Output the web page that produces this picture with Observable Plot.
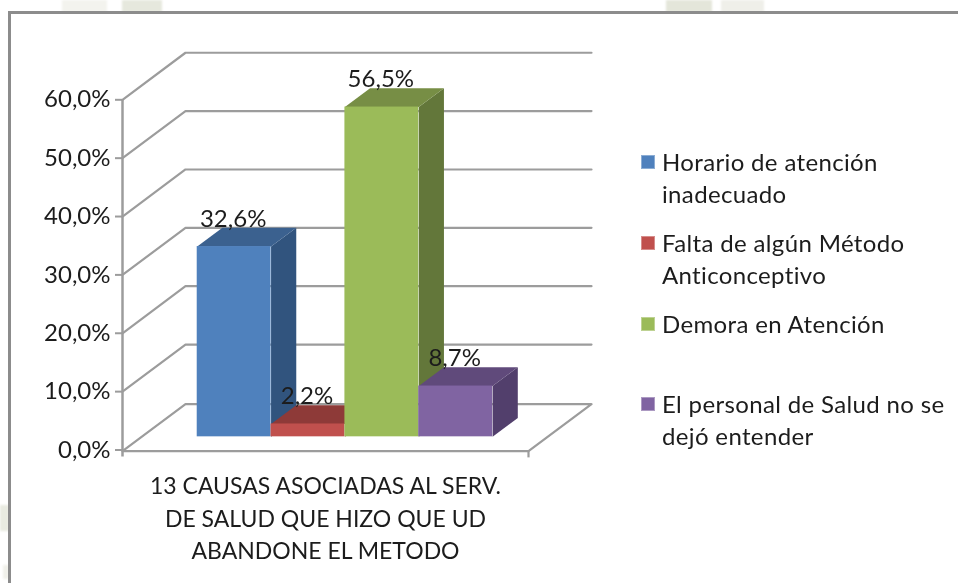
<!DOCTYPE html>
<html><head><meta charset="utf-8">
<script src="https://cdn.jsdelivr.net/npm/d3@7"></script>
<script src="https://cdn.jsdelivr.net/npm/@observablehq/plot@0.6"></script>
<style>
html,body{margin:0;padding:0;background:#fff;width:958px;height:583px;overflow:hidden;font-family:Lato,sans-serif;color:#1c1c1c}
.wm{position:absolute;filter:blur(1px)}
#frame{position:absolute;left:8px;top:11px;right:0;bottom:0;border-left:3px solid #8c8c8c;border-top:3px solid #8c8c8c;background:#fff}
#wrap{position:absolute;left:0;top:0;filter:blur(.3px)}
#legend{position:absolute;left:641px;top:-1px;width:317px;height:583px;filter:blur(.3px)}
.li{position:absolute;left:0;display:flex;align-items:flex-start}
.sw{width:14px;height:14px;margin-right:7px;margin-top:9px;flex:none;box-sizing:border-box;border:1px solid rgba(255,255,255,.35)}
.tx{font-size:24px;line-height:32px;white-space:pre;letter-spacing:.35px}
</style></head><body>
<div class="wm" style="left:62px;top:0;width:45px;height:12px;background:#f3f3ee"></div>
<div class="wm" style="left:122px;top:0;width:40px;height:12px;background:#e6e8dd"></div>
<div class="wm" style="left:666px;top:0;width:46px;height:12px;background:#e4e6da"></div>
<div class="wm" style="left:721px;top:0;width:43px;height:12px;background:#efefe9"></div>
<div class="wm" style="left:0;top:505px;width:9px;height:26px;background:#e9ebe1"></div>
<div class="wm" style="left:3px;top:565px;width:6px;height:14px;background:#f0f0ea"></div>
<div id="frame"></div><div id="wrap"></div><div id="legend"></div>
<script>
const categories = ["Horario de atención\ninadecuado","Falta de algún Método\nAnticonceptivo","Demora en Atención","El personal de Salud no se\ndejó entender"];
const values = [32.6, 2.2, 56.5, 8.7];
const valueLabels = ["32,6%","2,2%","56,5%","8,7%"];
const front = ["#4f81bd","#c0504d","#9bbb59","#8064a2"];
const topFace = ["#3b618f","#8e3a38","#778e45","#604a7b"];
const side = ["#31547e","#7c3230","#63773a","#523f6c"];
const ticks = [0,10,20,30,40,50,60];
const axisTitle = ["13 CAUSAS ASOCIADAS AL SERV.","DE SALUD QUE HIZO QUE UD","ABANDONE EL METODO"];
const legendTops = [147,228,309,389];

// oblique projection: one depth unit shifts a point along the wall diagonal
const X0 = -0.773, X1 = 4.725;
const DX = 0.853, DY = 8.06;        // data units per depth unit
const BAR_D0 = 0.28, BAR_D1 = 0.68; // depth span of the bars
const FLOOR = -0.2;
const P = (x, v, d) => ({x: x + d*DX, y: v + d*DY});

const grid = ticks.slice(1).map(v => [P(X0,v,0),P(X0,v,1),P(X1,v,1)]);
const floor = [P(X0,FLOOR,0),P(X1,FLOOR,0),P(X1,FLOOR,1),P(X0,FLOOR,1),P(X0,FLOOR,0)];
const GRID = {x:"x",y:"y",stroke:"#9c9c9c",strokeWidth:2.2,curve:"linear"};

const bars = values.map((v,i) => ({i,v,f:P(i,0,BAR_D0),e:P(i+1,v,BAR_D0)}));
const poly = (pts,fill) => Plot.line(pts,{x:"x",y:"y",fill,stroke:"none",curve:"linear"});
const sideFaces = bars.map(({i,v}) => poly([P(i+1,0,BAR_D0),P(i+1,v,BAR_D0),P(i+1,v,BAR_D1),P(i+1,0,BAR_D1)],side[i]));
const topFaces = bars.map(({i,v}) => poly([P(i,v,BAR_D0),P(i+1,v,BAR_D0),P(i+1,v,BAR_D1),P(i,v,BAR_D1)],topFace[i]));
const labelRows = values.map((v,i) => ({x:P(i+.5,v,BAR_D0).x,y:P(i,v,BAR_D1).y,t:valueLabels[i]}));

// draw bars left to right so later faces overlap earlier side faces
const barMarks = bars.flatMap((b,i) => [
  sideFaces[i], topFaces[i],
  Plot.rect([b],{x1:d=>d.f.x,x2:d=>d.e.x,y1:d=>d.f.y,y2:d=>d.e.y,fill:front[i],inset:0})
]);

const chart = Plot.plot({
  width:620,height:583,
  marginLeft:122,marginRight:0,marginTop:99.3,marginBottom:133.7,
  x:{domain:[X0,X1],range:[122,528],axis:null},
  y:{domain:[0,60],range:[449.5,99.3],axis:null},
  style:{background:"transparent",overflow:"visible"},
  marks:[
    ...grid.map(g=>Plot.line(g,GRID)),
    Plot.line(floor,GRID),
    Plot.ruleX([X1],{y1:FLOOR,y2:-1.35,stroke:"#9c9c9c",strokeWidth:2.2}),
    Plot.ruleX([X0],{y1:-1.2,y2:60,stroke:"#9c9c9c",strokeWidth:2.5}),
    Plot.axisY(ticks,{anchor:"left",tickSize:7,tickPadding:5,stroke:"#9c9c9c",strokeWidth:2,
      tickFormat:d=>d.toFixed(1).replace(".",",")+"%",fontSize:24,fontFamily:"Lato",fill:"#1c1c1c",label:null}),
    ...barMarks,
    Plot.text(labelRows,{x:"x",y:"y",text:"t",textAnchor:"middle",lineAnchor:"bottom",dy:-1,dx:-1,fontSize:24,fontFamily:"Lato",fill:"#1c1c1c"}),
    Plot.text([axisTitle.join("\n")],{x:()=>(X0+X1)/2,y:()=>0,text:d=>d,dy:21,lineAnchor:"top",lineHeight:1.413,
      textAnchor:"middle",fontSize:23,fontFamily:"Lato",fill:"#1c1c1c"})
  ]
});
document.getElementById("wrap").append(chart);

const lg = document.getElementById("legend");
categories.forEach((c,i)=>{
  const li=document.createElement("div");li.className="li";li.style.top=legendTops[i]+"px";
  const sw=document.createElement("div");sw.className="sw";sw.style.background=front[i];
  const tx=document.createElement("div");tx.className="tx";tx.textContent=c;
  li.append(sw,tx);lg.append(li);
});
</script></body></html>
